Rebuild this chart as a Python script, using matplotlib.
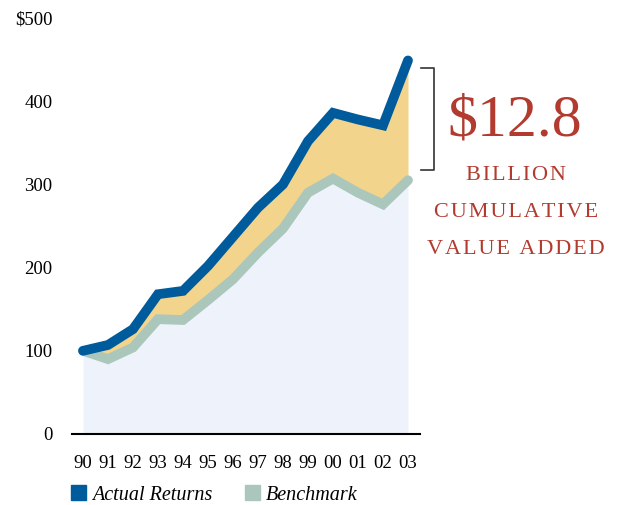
import numpy as np
import matplotlib
matplotlib.use("Agg")
import matplotlib.pyplot as plt
from matplotlib.patches import Patch

# Data ($ millions, indexed to 100)
years = ['90', '91', '92', '93', '94', '95', '96', '97', '98', '99', '00', '01', '02', '03']
actual = [100, 107, 126, 168, 172, 202, 237, 272, 300, 352, 386, 378, 371, 449]
benchmark = [100, 90, 104, 138, 137, 161, 186, 218, 247, 290, 307, 290, 276, 305]
y_ticks = [0, 100, 200, 300, 400, 500]
y_labels = ['0', '100', '200', '300', '400', '$500']

blue = '#005b9c'
green = '#abc7bb'
gold = '#f2d48c'
pale = '#eef3fb'
red = '#b23a2e'

plt.rcParams['font.family'] = ['Liberation Serif', 'DejaVu Serif']

W, H = 618, 505
fig = plt.figure(figsize=(W / 100, H / 100), dpi=100)
ax = fig.add_axes([72 / W, 1 - 434 / H, (420 - 72) / W, (434 - 18) / H])

x = np.arange(len(years))
ax.fill_between(x, 0, benchmark, color=pale, lw=0, zorder=1)
ax.fill_between(x, benchmark, actual, color=gold, lw=0, zorder=1)
ax.plot(x, benchmark, color=green, lw=7, solid_capstyle='round', solid_joinstyle='miter', zorder=2)
ax.plot(x, actual, color=blue, lw=7, solid_capstyle='round', solid_joinstyle='miter', zorder=3)

ax.set_xlim(-0.44, 13.48)
ax.set_ylim(0, 500)
ax.set_xticks(x)
ax.set_xticklabels(years, fontsize=13.5)
ax.set_yticks(y_ticks)
ax.set_yticklabels(y_labels, fontsize=13.5)
ax.tick_params(length=0)
ax.tick_params(axis='y', pad=14)
ax.tick_params(axis='x', pad=15)
for s in ['top', 'right', 'left']:
    ax.spines[s].set_visible(False)
ax.spines['bottom'].set_linewidth(1.5)

# bracket showing the value added in 2003
bx0, bx1 = 13.52, 14.05
ax.plot([bx0, bx1, bx1, bx0], [440, 440, 317, 317], color='#333333', lw=1.2, clip_on=False)

fig.text(515 / W, 1 - 122 / H, '$12.8', color=red, fontsize=43, ha='center', va='center')
hair = '\u200a'
for label, yy in [('BILLION', 176), ('CUMULATIVE', 213), ('VALUE ADDED', 249)]:
    fig.text(516 / W, 1 - yy / H, hair.join(label), color=red, fontsize=16,
             ha='center', va='center')

handles = [Patch(color=blue), Patch(color=green)]
fig.legend(handles, ['Actual Returns', 'Benchmark'], ncol=2, frameon=False,
           loc='center left', bbox_to_anchor=(53 / W, 1 - 495 / H),
           prop={'style': 'italic', 'size': 14.5}, handlelength=0.75, handleheight=0.75,
           handletextpad=0.3, columnspacing=1.6)

fig.savefig('out.png', dpi=100)
